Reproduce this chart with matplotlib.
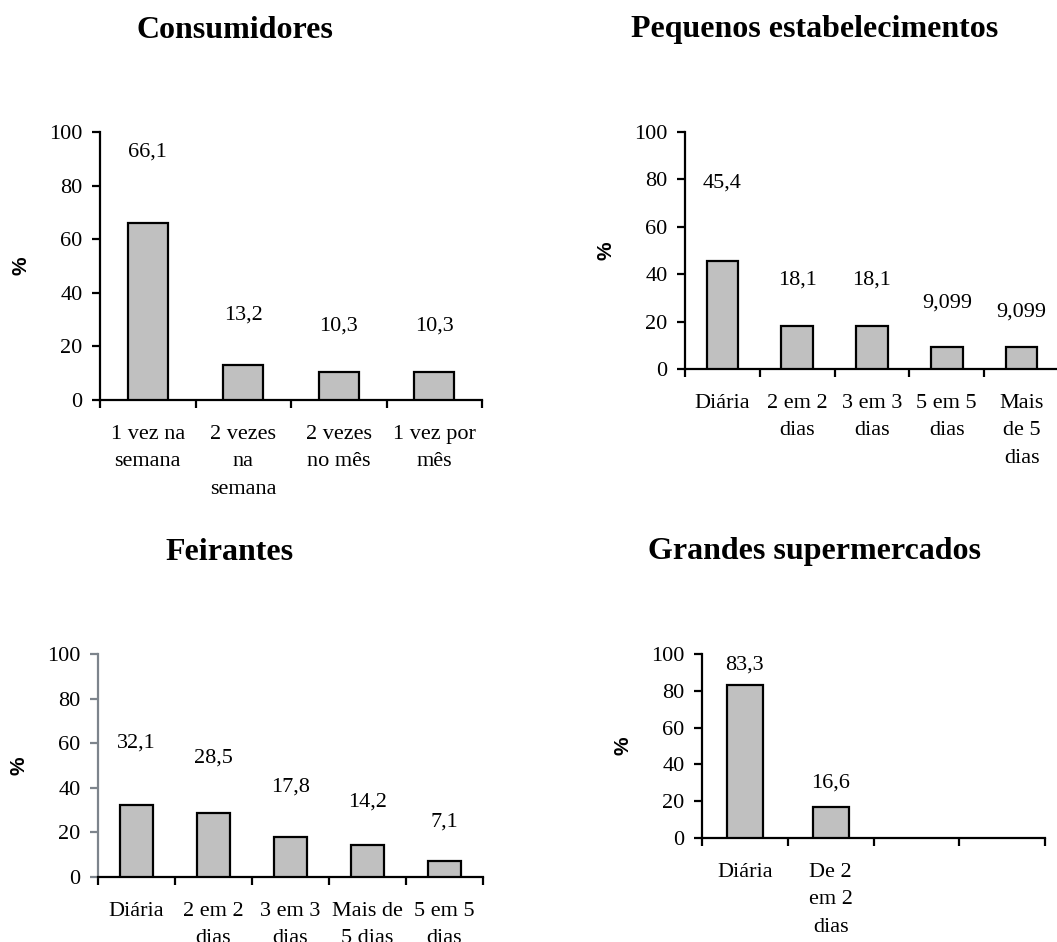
import matplotlib.pyplot as plt
from matplotlib.ticker import FixedLocator

# =========================
# Data
# =========================

cons_labels = ["1 vez na\nsemana", "2 vezes\nna\nsemana", "2 vezes\nno mês", "1 vez por\nmês"]
cons_values = [66.1, 13.2, 10.3, 10.3]

peq_labels = ["Diária", "2 em 2\ndias", "3 em 3\ndias", "5 em 5\ndias", "Mais\nde 5\ndias"]
peq_values = [45.4, 18.1, 18.1, 9.099, 9.099]

feir_labels = ["Diária", "2 em 2\ndias", "3 em 3\ndias", "Mais de\n5 dias", "5 em 5\ndias"]
feir_values = [32.1, 28.5, 17.8, 14.2, 7.1]

gran_labels = ["Diária", "De 2\nem 2\ndias", "", ""]
gran_values = [83.3, 16.6]

# =========================
# Layout (pixels on a 1057x942 canvas) and label heights
# =========================

W, H = 1057, 942
SERIF = "Liberation Serif"
FS = 16

panels = [
    # title, labels, values, (x0, x1, ytop, ybottom), title centre, value-label y, spine colour
    ("Consumidores", cons_labels, cons_values, (100, 482, 132, 400), (235, 30),
     [92.6, 31.7, 27.6, 27.6], "black"),
    ("Pequenos estabelecimentos", peq_labels, peq_values, (685, 1059, 132, 369), (815, 30),
     [78.4, 37.6, 37.6, 27.7, 24.2], "black"),
    ("Feirantes", feir_labels, feir_values, (98, 483, 654, 877), (230, 552),
     [60.0, 53.2, 40.5, 33.8, 24.8], "#7d848c"),
    ("Grandes supermercados", gran_labels, gran_values, (702, 1045, 654, 838), (814, 552),
     [94.0, 29.7], "black"),
]

fig = plt.figure(figsize=(W / 100, H / 100), dpi=100)

for title, labels, values, box, tpos, label_y, ycol in panels:
    x0, x1, yt, yb = box
    ax = fig.add_axes([x0 / W, (H - yb) / H, (x1 - x0) / W, (yb - yt) / H])
    n = len(labels)
    pos = list(range(len(values)))

    ax.bar(pos, values, width=0.42, color="#c0c0c0", edgecolor="black", linewidth=1.6, zorder=3)
    for p, v, ly in zip(pos, values, label_y):
        ax.text(p, ly, f"{v}".replace(".", ","), ha="center", va="center",
                fontsize=FS, family=SERIF)

    ax.set_xlim(-0.5, n - 0.5)
    ax.set_ylim(0, 100)
    ax.set_yticks([0, 20, 40, 60, 80, 100])

    ax.set_xticks(range(n))
    ax.set_xticklabels(labels, fontsize=FS, family=SERIF, linespacing=1.6, va="top")
    ax.xaxis.set_minor_locator(FixedLocator([i - 0.5 for i in range(n + 1)]))
    ax.tick_params(axis="x", which="major", length=0, pad=18)
    ax.tick_params(axis="x", which="minor", length=6, width=1.6, direction="out")
    ax.tick_params(axis="y", length=6, width=1.6, direction="out", pad=6.5,
                   labelsize=FS, color=ycol)
    for lab in ax.get_yticklabels():
        lab.set_family(SERIF)

    for side in ("top", "right"):
        ax.spines[side].set_visible(False)
    ax.spines["bottom"].set_linewidth(1.6)
    ax.spines["left"].set_linewidth(1.6)
    ax.spines["left"].set_color(ycol)

    ax.annotate("%", xy=(0, 0.5), xycoords="axes fraction", xytext=(-57, 0),
                textcoords="offset points", rotation=90, ha="center", va="center",
                fontsize=15, fontweight="bold", family="Liberation Sans")

    fig.text(tpos[0] / W, 1 - tpos[1] / H, title, ha="center", va="center",
             fontsize=23, fontweight="bold", family=SERIF)

fig.savefig("out.png", dpi=100)
